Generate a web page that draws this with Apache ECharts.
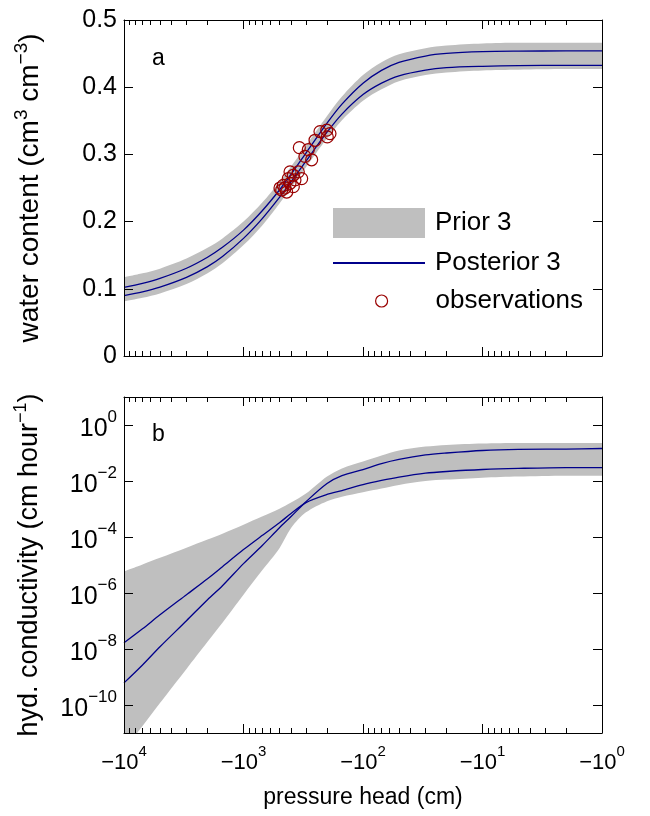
<!DOCTYPE html>
<html>
<head>
<meta charset="utf-8">
<script src="https://cdn.jsdelivr.net/npm/echarts@6/dist/echarts.min.js"></script>
<style>
html,body{margin:0;padding:0;background:#fff;}
#chart{width:650px;height:816px;}
</style>
</head>
<body>
<div id="chart"></div>
<script>
// ---------- data ----------
// pressure head magnitudes |h| (cm); axis shows -|h|
const headAbs = [10000,7000,5000,3000,2000,1500,1000,700,500,400,300,200,150,100,70,50,30,20,10,5,2,1];

// panel a: water content
const thetaPostA = [0.102,0.108,0.1155,0.1306,0.147,0.1617,0.1873,0.2157,0.247,0.2704,0.302,0.3465,0.3748,0.406,0.425,0.4369,0.4464,0.4502,0.4528,0.4536,0.454,0.454];
const thetaPostB = [0.090,0.0955,0.1025,0.117,0.133,0.148,0.175,0.204,0.236,0.259,0.290,0.333,0.360,0.389,0.406,0.417,0.4255,0.429,0.431,0.432,0.4325,0.4325];
const thetaPriorUpper = [0.117,0.123,0.130,0.145,0.161,0.175,0.200,0.228,0.259,0.282,0.313,0.357,0.386,0.418,0.437,0.449,0.458,0.462,0.465,0.466,0.466,0.466];
const thetaPriorLower = [0.081,0.0865,0.093,0.107,0.123,0.138,0.165,0.194,0.227,0.250,0.281,0.324,0.351,0.380,0.397,0.409,0.418,0.422,0.425,0.426,0.427,0.427];

// observations (|h|, theta)
const obsHead  = [201,189,199,229,252,341,287,306,269,348,383,326,422,408,465,479,435,383,450,371,408,495];
const obsTheta = [0.336,0.331,0.326,0.334,0.321,0.310,0.307,0.297,0.292,0.274,0.269,0.264,0.264,0.257,0.254,0.247,0.244,0.252,0.250,0.262,0.274,0.250];

// panel b: log10 of hydraulic conductivity
const logKPostA = [-7.78,-7.28,-6.78,-6.06,-5.49,-5.06,-4.45,-3.95,-3.49,-3.16,-2.77,-2.48,-2.34,-2.13,-1.98,-1.86,-1.72,-1.66,-1.59,-1.55,-1.52,-1.52];
const logKPostB = [-9.21,-8.57,-7.92,-6.99,-6.24,-5.74,-4.95,-4.31,-3.67,-3.27,-2.74,-2.09,-1.81,-1.59,-1.38,-1.23,-1.07,-1.00,-0.91,-0.87,-0.86,-0.84];
const logKPriorUpper = [-5.23,-4.98,-4.74,-4.38,-4.09,-3.88,-3.56,-3.27,-2.99,-2.77,-2.45,-1.84,-1.55,-1.30,-1.09,-0.91,-0.77,-0.71,-0.66,-0.64,-0.64,-0.64];
const logKPriorLower = [-11.61,-10.75,-9.93,-8.71,-7.74,-7.06,-6.06,-5.20,-4.40,-3.68,-3.12,-2.72,-2.56,-2.40,-2.27,-2.14,-2.00,-1.95,-1.88,-1.84,-1.81,-1.81];

// ticks
const xMajorTicks = [10000,1000,100,10,1];
const xMinorTicks = [2,3,4,5,6,7,8,9,20,30,40,50,60,70,80,90,200,300,400,500,600,700,800,900,2000,3000,4000,5000,6000,7000,8000,9000];
const yTicksB = [1e-10,1e-8,1e-6,1e-4,1e-2,1];

// ---------- helpers ----------
const FONT = '"Liberation Sans", Arial, Helvetica, sans-serif';
const NAVY = '#00008B';
const GRAY = '#BFBFBF';
const RED = '#990000';
function mkRich(fs, sfs){
  return {
    b: {fontSize: fs, lineHeight: fs + 8, verticalAlign: 'bottom', fontFamily: FONT, color: '#000'},
    s: {fontSize: sfs, lineHeight: sfs, verticalAlign: 'top', fontFamily: FONT, color: '#000'}
  };
}
function expStr(v){ const e = Math.round(Math.log10(v)); return e < 0 ? '\u2212' + (-e) : String(e); }
const pairs = (xs, ys) => xs.map((x, i) => [x, ys[i]]);
const pow10 = arr => arr.map(v => Math.pow(10, v));

const kA = pow10(logKPostA), kB = pow10(logKPostB);
const kU = pow10(logKPriorUpper), kL = pow10(logKPriorLower);

const GRID_L = 124, GRID_W = 478, GRID_H = 336;

function xAxesFor(g, withLabels){
  const base = {type:'log', logBase:10, gridIndex:g, min:1, max:10000, inverse:true, z:5,
    splitLine:{show:false}, axisPointer:{show:false}};
  const lab = withLabels ? {show:true, customValues:xMajorTicks, margin:11,
      formatter: v => '{b|\u221210}{s|' + expStr(v) + '}', rich: mkRich(22, 15)} : {show:false};
  return [
    Object.assign({}, base, {position:'bottom', axisLine:{show:true, lineStyle:{color:'#000', width:1}},
      axisTick:{show:true, inside:true, length:9, customValues:xMajorTicks, lineStyle:{color:'#000', width:1}},
      axisLabel: lab,
      name: withLabels ? 'pressure head (cm)' : '', nameLocation:'middle', nameGap:53,
      nameTextStyle:{fontSize:23, fontFamily:FONT, color:'#000'}}),
    Object.assign({}, base, {position:'bottom', axisLine:{show:false},
      axisTick:{show:true, inside:true, length:5, customValues:xMinorTicks, lineStyle:{color:'#000', width:1}},
      axisLabel:{show:false}}),
    Object.assign({}, base, {position:'top', axisLine:{show:true, lineStyle:{color:'#000', width:1}},
      axisTick:{show:true, inside:true, length:9, customValues:xMajorTicks, lineStyle:{color:'#000', width:1}},
      axisLabel:{show:false}}),
    Object.assign({}, base, {position:'top', axisLine:{show:false},
      axisTick:{show:true, inside:true, length:5, customValues:xMinorTicks, lineStyle:{color:'#000', width:1}},
      axisLabel:{show:false}})
  ];
}

const SM = 0.3;
function bandSeries(name, xi, yi, data, color){
  return {type:'line', name:name, xAxisIndex:xi, yAxisIndex:yi, silent:true, color:color,
    data:data, symbol:'none', smooth:SM, lineStyle:{width:0, opacity:0},
    areaStyle:{color:color, opacity:1, origin:'start'}};
}
function lineSeries(xi, yi, data){
  return {type:'line', name:'Posterior 3', xAxisIndex:xi, yAxisIndex:yi, silent:true, color:NAVY,
    data:data, symbol:'none', smooth:SM, lineStyle:{color:NAVY, width:1.3}};
}

const LEG_FS = 26;
const legText = pad => ({fontSize:LEG_FS, fontFamily:FONT, color:'#000', padding:[0,0,0,pad]});
const option = {
  animation: false,
  backgroundColor: '#fff',
  textStyle: {fontFamily: FONT},
  title: [
    {text:'a', left:147, top:42, textStyle:{fontSize:23, fontWeight:'normal', fontFamily:FONT, color:'#000'}},
    {text:'b', left:147, top:418, textStyle:{fontSize:23, fontWeight:'normal', fontFamily:FONT, color:'#000'}}
  ],
  grid: [
    {left:GRID_L, top:20, width:GRID_W, height:GRID_H, containLabel:false},
    {left:GRID_L, top:397, width:GRID_W, height:GRID_H, containLabel:false}
  ],
  legend: [
    {left:333, top:208, padding:0, selectedMode:false, itemWidth:92, itemHeight:30,
     data:[{name:'Prior 3', icon:'rect', itemStyle:{color:GRAY, borderWidth:0}}],
     textStyle:legText(5)},
    {left:333, top:250, padding:0, selectedMode:false, itemWidth:92, itemHeight:2,
     data:[{name:'Posterior 3', icon:'rect', itemStyle:{color:NAVY, borderWidth:0}}],
     textStyle:legText(5)},
    {left:375, top:288, padding:0, selectedMode:false, itemWidth:12, itemHeight:12,
     data:[{name:'observations', icon:'circle', itemStyle:{color:'#fff', borderColor:RED, borderWidth:1.2}}],
     textStyle:legText(43)}
  ],
  xAxis: xAxesFor(0, false).concat(xAxesFor(1, true)),
  yAxis: [
    {type:'value', gridIndex:0, position:'left', min:0, max:0.5, interval:0.1, z:5,
     axisLine:{show:true, lineStyle:{color:'#000', width:1}},
     axisTick:{show:true, inside:true, length:9, lineStyle:{color:'#000'}},
     axisLabel:{show:true, fontSize:25, fontFamily:FONT, color:'#000', margin:7},
     splitLine:{show:false},
     name:'water content (cm{s|3} cm{s|\u22123})', nameLocation:'middle', nameGap:76,
     nameTextStyle:{fontSize:28, fontFamily:FONT, color:'#000', lineHeight:36, rich:{s:{fontSize:19, lineHeight:19, verticalAlign:'top', fontFamily:FONT, color:'#000'}}}},
    {type:'value', gridIndex:0, position:'right', min:0, max:0.5, interval:0.1, z:5,
     axisLine:{show:true, lineStyle:{color:'#000', width:1}},
     axisTick:{show:true, inside:true, length:9, lineStyle:{color:'#000'}},
     axisLabel:{show:false}, splitLine:{show:false}},
    {type:'log', logBase:10, gridIndex:1, position:'left', min:1e-11, max:10, z:5,
     axisLine:{show:true, lineStyle:{color:'#000', width:1}},
     axisTick:{show:true, inside:true, length:9, customValues:yTicksB, lineStyle:{color:'#000'}},
     axisLabel:{show:true, customValues:yTicksB, margin:7,
       formatter: v => '{b|10}{s|' + expStr(v) + '}', rich: mkRich(25, 17)},
     splitLine:{show:false},
     name:'hyd. conductivity (cm hour{s|\u22121})', nameLocation:'middle', nameGap:76,
     nameTextStyle:{fontSize:27, fontFamily:FONT, color:'#000', lineHeight:36, rich:{s:{fontSize:18, lineHeight:18, verticalAlign:'top', fontFamily:FONT, color:'#000'}}}},
    {type:'log', logBase:10, gridIndex:1, position:'right', min:1e-11, max:10, z:5,
     axisLine:{show:true, lineStyle:{color:'#000', width:1}},
     axisTick:{show:true, inside:true, length:9, customValues:yTicksB, lineStyle:{color:'#000'}},
     axisLabel:{show:false}, splitLine:{show:false}}
  ],
  series: [
    // panel a
    bandSeries('Prior 3', 0, 0, pairs(headAbs, thetaPriorUpper), GRAY),
    bandSeries('bandMaskA', 0, 0, pairs(headAbs, thetaPriorLower), '#FFFFFF'),
    lineSeries(0, 0, pairs(headAbs, thetaPostA)),
    lineSeries(0, 0, pairs(headAbs, thetaPostB)),
    {type:'scatter', name:'observations', xAxisIndex:0, yAxisIndex:0, color:RED, silent:true, z:4,
     data: pairs(obsHead, obsTheta), symbol:'circle', symbolSize:12,
     itemStyle:{color:'rgba(255,255,255,0)', borderColor:RED, borderWidth:1.2, opacity:1}},
    // panel b
    bandSeries('Prior 3', 4, 2, pairs(headAbs, kU), GRAY),
    bandSeries('bandMaskB', 4, 2, pairs(headAbs, kL), '#FFFFFF'),
    lineSeries(4, 2, pairs(headAbs, kA)),
    lineSeries(4, 2, pairs(headAbs, kB))
  ]
};

const chart = echarts.init(document.getElementById('chart'), null, {renderer:'canvas'});
chart.setOption(option);
</script>
</body>
</html>
